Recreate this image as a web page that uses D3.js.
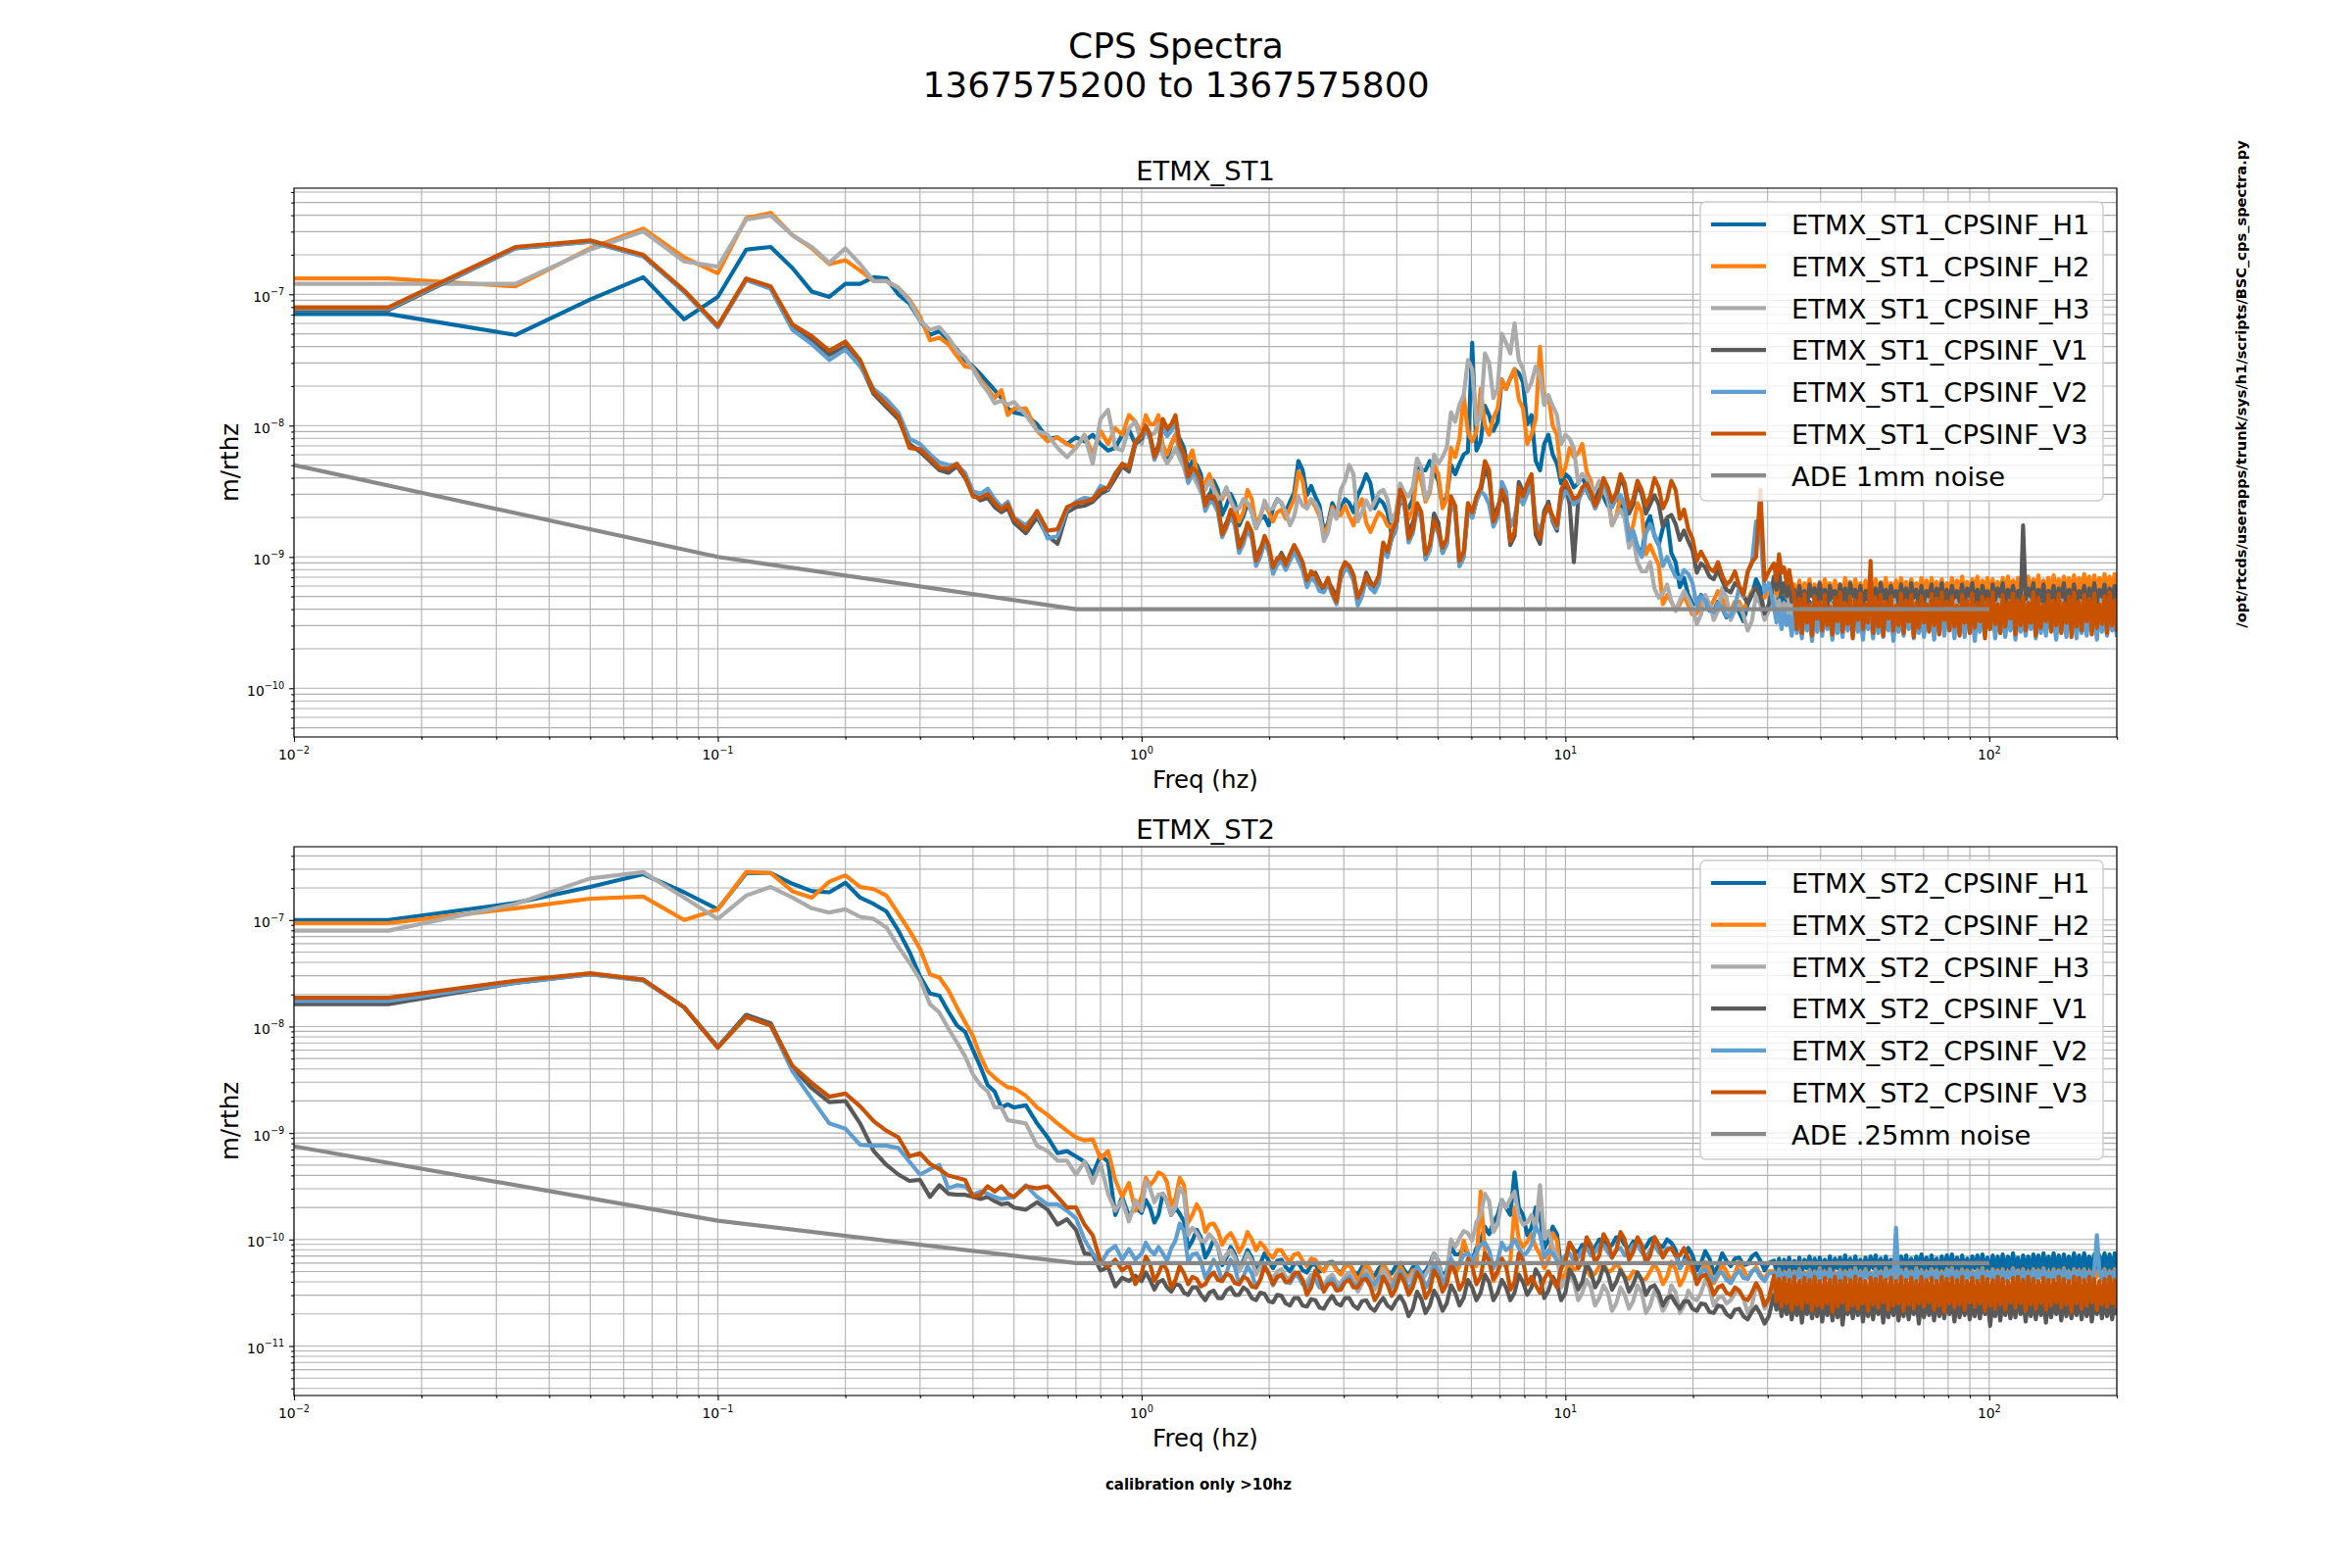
<!DOCTYPE html>
<html>
<head>
<meta charset="utf-8">
<script src="https://cdn.jsdelivr.net/npm/d3@7"></script>
<style>
  body { margin: 0; background: #fff; }
  text { font-family: "DejaVu Sans", sans-serif; fill: #000; }
</style>
</head>
<body>
<script>
// ---------------------------------------------- DATA ----------------------------------------------

// frequency grid (Hz): 1/60 Hz bins below 1 Hz, then a thinned set of bins up to 200 Hz
const fLow = [0.01,0.0167,0.0333,0.05,0.0667,0.0833,0.1,0.1167,0.1333,0.15,
  0.1667,0.1833,0.2,0.2167,0.2333,0.25,0.2667,0.2833,0.3,0.3167,
  0.3333,0.35,0.3667,0.3833,0.4,0.4167,0.4333,0.45,0.4667,0.4833,
  0.5,0.5333,0.5667,0.6,0.6333,0.6667,0.7,0.7333,0.7667,0.8,0.8333,0.8667,0.9,0.9333,0.9667,1.0];
const fMid = [1.023,1.047,1.072,1.096,1.122,1.148,1.175,1.202,1.230,1.259,
  1.288,1.318,1.349,1.380,1.413,1.445,1.479,1.514,1.549,1.585,
  1.622,1.660,1.698,1.738,1.778,1.820,1.862,1.905,1.950,1.995,
  2.042,2.089,2.138,2.188,2.239,2.291,2.344,2.399,2.455,2.512,
  2.570,2.630,2.692,2.754,2.818,2.884,2.951,3.020,3.090,3.162,
  3.236,3.311,3.388,3.467,3.548,3.631,3.715,3.802,3.890,3.981,
  4.074,4.169,4.266,4.365,4.467,4.571,4.677,4.786,4.898,5.012,
  5.129,5.248,5.370,5.495,5.623,5.754,5.888,6.026,6.166,6.310,
  6.457,6.607,6.761,6.918,7.079,7.244,7.413,7.586,7.762,7.943,
  8.128,8.318,8.511,8.710,8.913,9.120,9.333,9.550,9.772,10.00,
  10.23,10.47,10.72,10.96,11.22,11.48,11.75,12.02,12.30,12.59,
  12.88,13.18,13.49,13.80,14.13,14.45,14.79,15.14,15.49,15.85,
  16.22,16.60,16.98,17.38,17.78,18.20,18.62,19.05,19.50,19.95,
  20.42,20.89,21.38,21.88,22.39,22.91,23.44,23.99,24.55,25.12,
  25.70,26.30,26.92,27.54,28.18,28.84,29.51,30.20];
const fTop = [31.05,31.48,31.92,32.36,32.81,33.27,33.73,34.20,34.67,35.16,
  35.65,36.14,36.64,37.15,37.67,38.19,38.73,39.26,39.81,40.36,
  40.93,41.50,42.07,42.66,43.25,43.85,44.46,45.08,45.71,46.35,
  46.99,47.64,48.31,48.98,49.66,50.35,51.05,51.76,52.48,53.21,
  53.95,54.70,55.46,56.23,57.02,57.81,58.61,59.43,60.26,61.09,
  61.94,62.81,63.68,64.57,65.46,66.37,67.30,68.23,69.18,70.14,
  71.12,72.11,73.11,74.13,75.16,76.21,77.27,78.34,79.43,80.54,
  81.66,82.79,83.95,85.11,86.30,87.50,88.72,89.95,91.20,92.47,
  93.76,95.06,96.38,97.72,99.08,100.5,101.9,103.3,104.7,106.2,
  107.6,109.1,110.7,112.2,113.8,115.3,116.9,118.6,120.2,121.9,
  123.6,125.3,127.1,128.8,130.6,132.4,134.3,136.1,138.0,140.0,
  141.9,143.9,145.9,147.9,150.0,152.1,154.2,156.3,158.5,160.7,
  162.9,165.2,167.5,169.8,172.2,174.6,177.0,179.5,182.0,184.5,
  187.1,189.7,192.3,195.0,197.7,200];
const freqs = fLow.concat(fMid, fTop);

// spectra, log10(m/rthz), one value per frequency above
const st1_h1 = [
  -7.15,-7.15,-7.31,-7.04,-6.87,-7.19,-7.02,-6.66,-6.64,-6.80,
  -6.98,-7.02,-6.92,-6.92,-6.87,-6.88,-7.00,-7.07,-7.20,-7.31,
  -7.28,-7.35,-7.42,-7.50,-7.55,-7.61,-7.67,-7.73,-7.79,-7.87,
  -7.90,-7.92,-7.99,-8.10,-8.09,-8.14,-8.09,-8.12,-8.07,-8.14,-8.19,-8.17,-8.07,-8.03,-8.14,-8.07,
  -8.02,-8.09,-8.24,-8.17,-8.20,-8.27,-8.14,-8.07,-8.10,-8.17,-8.34,-8.27,-8.30,-8.37,-8.63,-8.56,-8.42,-8.49,-8.68,-8.61,-8.52,-8.59,-8.76,-8.69,-8.59,-8.66,-8.78,-8.71,-8.69,-8.76,
  -8.63,-8.56,-8.59,-8.66,-8.58,-8.51,-8.27,-8.34,-8.53,-8.46,-8.54,-8.61,-8.81,-8.74,-8.59,-8.66,-8.63,-8.56,-8.59,-8.66,-8.53,-8.46,-8.37,-8.44,-8.63,-8.56,-8.59,-8.66,-8.83,-8.76,
  -8.54,-8.61,-8.63,-8.56,-8.27,-8.34,-8.34,-8.27,-8.35,-8.42,-8.61,-8.54,-8.30,-8.37,-8.29,-8.22,-8.20,-7.37,-8.19,-8.12,-7.85,-7.92,-8.04,-7.97,
  -7.65,-7.72,-7.64,-7.57,-7.60,-7.67,-7.99,-7.92,-8.27,-8.34,-8.14,-8.07,-8.22,-8.29,-8.44,-8.37,
  -8.40,-8.47,-8.44,-8.37,-8.49,-8.56,-8.56,-8.49,-8.54,-8.61,-8.61,-8.54,-8.59,-8.66,-8.88,-8.81,-8.92,-8.99,-8.76,-8.69,
  -8.84,-8.91,-8.78,-8.71,-8.97,-9.04,-9.23,-9.16,-9.29,-9.36,-9.36,-9.29,-9.34,-9.41,-9.41,-9.34,-9.39,-9.46,-9.43,-9.36,-9.42,-9.49,-9.36,-9.29,-9.17,-9.24,-9.46,-9.39,
  -9.20,-9.35,-9.25,-9.42,-9.30,-9.45,-9.32,-9.48,-9.30,-9.44,
  -9.33,-9.47,-9.29,-9.50,-9.34,-9.45,-9.30,-9.49,-9.32,-9.46,
  -9.29,-9.48,-9.33,-9.44,-9.31,-9.50,-9.28,-9.46,-9.34,-9.47,
  -9.30,-9.45,-9.32,-9.49,-9.29,-9.47,-9.33,-9.44,-9.31,-9.50,
  -9.28,-9.46,-9.34,-9.48,-9.30,-9.45,-9.32,-9.50,-9.29,-9.47,
  -9.33,-9.44,-9.30,-9.49,-9.31,-9.46,-9.28,-9.48,-9.34,-9.45,
  -9.30,-9.50,-9.32,-9.46,-9.29,-9.47,-9.33,-9.44,-9.30,-9.49,
  -9.31,-9.45,-9.28,-9.48,-9.34,-9.46,-9.30,-9.50,-9.32,-9.44,
  -9.29,-9.47,-9.33,-9.45,-9.30,-9.49,-9.31,-9.46,-9.28,-9.48,
  -9.34,-9.44,-9.30,-9.50,-9.32,-9.45,-9.29,-9.47,-9.33,-9.46,
  -9.30,-9.48,-9.31,-9.44,-9.28,-9.49,-9.34,-9.45,-9.30,-9.47,
  -9.32,-9.46,-9.29,-9.50,-9.31,-9.44,-9.33,-9.48,-9.30,-9.45,
  -9.28,-9.47,-9.34,-9.46,-9.30,-9.49,-9.32,-9.44,-9.29,-9.48,
  -9.33,-9.45,-9.30,-9.47,-9.31,-9.46];
const st1_h2 = [
  -6.88,-6.88,-6.94,-6.65,-6.50,-6.72,-6.84,-6.42,-6.38,-6.55,
  -6.65,-6.77,-6.74,-6.82,-6.90,-6.90,-6.95,-7.04,-7.17,-7.35,
  -7.33,-7.38,-7.47,-7.55,-7.56,-7.65,-7.72,-7.79,-7.73,-7.92,
  -7.87,-7.87,-8.04,-8.12,-8.09,-8.14,-8.17,-8.07,-8.22,-8.04,-8.14,-8.02,-8.07,-7.92,-7.97,-8.07,
  -7.92,-7.99,-7.99,-7.92,-8.15,-8.22,-8.14,-8.07,-8.20,-8.27,-8.26,-8.19,-8.35,-8.42,-8.44,-8.37,-8.47,-8.54,-8.56,-8.49,-8.57,-8.64,-8.73,-8.66,-8.49,-8.56,-8.76,-8.69,-8.59,-8.66,
  -8.73,-8.66,-8.64,-8.71,-8.63,-8.56,-8.35,-8.42,-8.63,-8.56,-8.62,-8.69,-8.83,-8.76,-8.62,-8.69,-8.68,-8.61,-8.69,-8.76,-8.63,-8.56,-8.74,-8.81,-8.73,-8.66,-8.69,-8.76,-8.78,-8.71,
  -8.49,-8.56,-8.71,-8.64,-8.35,-8.42,-8.58,-8.51,-8.30,-8.37,-8.63,-8.56,-8.17,-8.24,-8.10,-7.77,-8.05,-8.12,-8.05,-7.72,-8.00,-8.07,-7.94,-7.87,
  -7.65,-7.72,-7.64,-7.57,-7.80,-7.87,-8.14,-8.07,-7.95,-7.40,-7.84,-7.77,-8.00,-8.07,-8.39,-8.32,
  -8.17,-8.24,-8.21,-8.14,-8.35,-8.42,-8.63,-8.56,-8.42,-8.49,-8.76,-8.69,-8.54,-8.61,-8.83,-8.76,-8.59,-8.66,-8.98,-8.91,
  -8.99,-9.06,-9.36,-9.29,-9.34,-9.41,-9.36,-9.29,-9.37,-9.44,-9.43,-9.36,-9.32,-9.39,-9.33,-9.26,-9.32,-9.39,-9.41,-9.34,-9.34,-9.41,-9.33,-9.26,-9.24,-9.31,-9.31,-9.24,
  -9.20,-9.30,-9.18,-9.28,-9.22,-9.31,-9.19,-9.27,-9.21,-9.30,
  -9.18,-9.29,-9.20,-9.26,-9.17,-9.30,-9.21,-9.27,-9.19,-9.29,
  -9.17,-9.28,-9.20,-9.30,-9.18,-9.26,-9.21,-9.29,-9.16,-9.27,
  -9.19,-9.30,-9.17,-9.27,-9.20,-9.29,-9.18,-9.26,-9.21,-9.30,
  -9.17,-9.28,-9.19,-9.26,-9.16,-9.29,-9.20,-9.27,-9.18,-9.30,
  -9.16,-9.27,-9.19,-9.29,-9.17,-9.26,-9.20,-9.28,-9.16,-9.27,
  -9.18,-9.29,-9.16,-9.26,-9.19,-9.28,-9.17,-9.27,-9.20,-9.29,
  -9.16,-9.26,-9.18,-9.28,-9.15,-9.27,-9.19,-9.29,-9.17,-9.26,
  -9.15,-9.28,-9.18,-9.26,-9.16,-9.29,-9.17,-9.27,-9.19,-9.28,
  -9.16,-9.26,-9.15,-9.28,-9.18,-9.27,-9.16,-9.29,-9.17,-9.26,
  -9.15,-9.27,-9.17,-9.25,-9.14,-9.28,-9.18,-9.26,-9.16,-9.27,
  -9.14,-9.26,-9.17,-9.28,-9.15,-9.25,-9.16,-9.27,-9.14,-9.26,
  -9.16,-9.27,-9.13,-9.25,-9.15,-9.28,-9.14,-9.26,-9.16,-9.25,
  -9.13,-9.26,-9.15,-9.24,-9.13,-9.25];
const st1_h3 = [
  -6.92,-6.92,-6.92,-6.66,-6.52,-6.75,-6.79,-6.43,-6.40,-6.55,
  -6.64,-6.76,-6.65,-6.77,-6.90,-6.90,-6.95,-7.05,-7.20,-7.27,
  -7.25,-7.33,-7.43,-7.48,-7.57,-7.67,-7.74,-7.83,-7.81,-7.84,
  -7.82,-7.92,-8.04,-8.07,-8.17,-8.24,-8.17,-8.07,-8.29,-7.95,-7.88,-8.17,-8.19,-8.02,-7.97,-8.14,
  -8.00,-8.07,-8.06,-7.99,-8.22,-8.29,-8.24,-8.17,-8.25,-8.32,-8.44,-8.37,-8.44,-8.51,-8.49,-8.42,-8.49,-8.56,-8.54,-8.47,-8.57,-8.64,-8.63,-8.56,-8.59,-8.66,-8.78,-8.71,-8.57,-8.64,
  -8.63,-8.56,-8.59,-8.66,-8.76,-8.69,-8.54,-8.61,-8.63,-8.56,-8.59,-8.66,-8.88,-8.81,-8.64,-8.71,-8.49,-8.42,-8.30,-8.37,-8.73,-8.66,-8.57,-8.64,-8.58,-8.51,-8.49,-8.56,-8.73,-8.66,
  -8.44,-8.51,-8.54,-8.47,-8.25,-8.32,-8.56,-8.49,-8.22,-8.29,-8.24,-8.17,-7.90,-7.97,-7.84,-7.77,-7.50,-7.57,-7.99,-7.92,-7.45,-7.52,-7.79,-7.72,
  -7.30,-7.37,-7.45,-7.22,-7.50,-7.57,-7.74,-7.67,-7.55,-7.62,-7.84,-7.77,-7.85,-7.92,-8.14,-8.07,
  -8.10,-8.17,-8.44,-8.37,-8.40,-8.47,-8.49,-8.42,-8.49,-8.56,-8.76,-8.69,-8.64,-8.71,-8.93,-8.86,-9.04,-9.11,-9.11,-9.04,
  -9.24,-9.31,-9.28,-9.21,-9.34,-9.41,-9.33,-9.26,-9.32,-9.39,-9.51,-9.44,-9.29,-9.36,-9.48,-9.41,-9.24,-9.31,-9.48,-9.41,-9.37,-9.44,-9.56,-9.49,-9.29,-9.36,-9.48,-9.41,
  -9.30,-9.42,-9.33,-9.46,-9.35,-9.44,-9.32,-9.47,-9.34,-9.43,
  -9.35,-9.45,-9.31,-9.48,-9.36,-9.43,-9.32,-9.47,-9.34,-9.44,
  -9.31,-9.46,-9.35,-9.42,-9.33,-9.48,-9.30,-9.44,-9.36,-9.45,
  -9.32,-9.43,-9.34,-9.47,-9.31,-9.45,-9.35,-9.42,-9.33,-9.48,
  -9.30,-9.44,-9.36,-9.46,-9.32,-9.43,-9.34,-9.48,-9.31,-9.45,
  -9.35,-9.42,-9.32,-9.47,-9.33,-9.44,-9.30,-9.46,-9.36,-9.43,
  -9.32,-9.48,-9.34,-9.44,-9.31,-9.45,-9.35,-9.42,-9.32,-9.47,
  -9.33,-9.43,-9.30,-9.46,-9.36,-9.44,-9.32,-9.48,-9.34,-9.42,
  -9.31,-9.45,-9.35,-9.43,-9.32,-9.47,-9.33,-9.44,-9.30,-9.46,
  -9.36,-9.42,-9.32,-9.48,-9.34,-9.43,-9.31,-9.45,-9.35,-9.44,
  -9.32,-9.46,-9.33,-9.42,-9.30,-9.47,-9.36,-9.43,-9.32,-9.45,
  -9.34,-9.44,-9.31,-9.48,-9.33,-9.42,-9.35,-9.46,-9.32,-9.43,
  -9.30,-9.45,-9.36,-9.44,-9.32,-9.47,-9.34,-9.42,-9.31,-9.46,
  -9.35,-9.43,-9.32,-9.45,-9.33,-9.44];
const st1_v1 = [
  -7.12,-7.12,-6.65,-6.60,-6.71,-6.98,-7.25,-6.89,-6.95,-7.25,
  -7.35,-7.46,-7.40,-7.53,-7.76,-7.86,-7.95,-8.14,-8.20,-8.27,
  -8.34,-8.36,-8.31,-8.40,-8.52,-8.57,-8.55,-8.62,-8.66,-8.63,
  -8.74,-8.82,-8.70,-8.84,-8.90,-8.66,-8.62,-8.61,-8.58,-8.52,-8.49,-8.40,-8.31,-8.35,-8.14,-8.10,
  -8.02,-8.09,-8.22,-8.15,-7.98,-8.05,-8.02,-7.95,-8.13,-8.20,-8.42,-8.35,-8.37,-8.44,-8.59,-8.52,-8.57,-8.64,-8.81,-8.74,-8.67,-8.74,-8.91,-8.84,-8.77,-8.84,-9.01,-8.94,-8.87,-8.94,
  -9.11,-9.04,-8.97,-9.04,-9.01,-8.94,-8.99,-9.06,-9.21,-9.14,-9.12,-9.19,-9.26,-9.19,-9.24,-9.31,-9.16,-9.09,-9.07,-9.14,-9.33,-9.26,-9.12,-9.19,-9.23,-9.16,-8.92,-8.99,-8.86,-8.79,
  -8.53,-8.60,-8.81,-8.74,-8.63,-8.70,-9.01,-8.94,-8.67,-8.74,-8.97,-8.90,-8.57,-8.64,-9.07,-9.00,-8.63,-8.70,-8.57,-8.50,-8.33,-8.40,-8.69,-8.62,
  -8.53,-8.60,-8.91,-8.84,-8.43,-8.50,-8.49,-8.42,-8.83,-8.90,-8.65,-8.58,-8.73,-8.80,-8.52,-8.45,
  -8.60,-9.04,-8.57,-8.50,-8.48,-8.55,-8.57,-8.50,-8.43,-8.50,-8.62,-8.55,-8.40,-8.47,-8.67,-8.60,-8.45,-8.52,-8.67,-8.60,
  -8.53,-8.60,-8.77,-8.70,-8.68,-8.75,-8.87,-8.80,-8.88,-8.95,-9.12,-9.05,-9.08,-9.15,-9.17,-9.10,-9.18,-9.25,-9.27,-9.20,-9.23,-9.30,-9.35,-9.28,-9.23,-9.30,-9.43,-9.36,
  -9.15,-9.25,-9.10,-9.28,-9.20,-9.30,-9.22,-9.34,-9.25,-9.36,
  -9.22,-9.33,-9.26,-9.38,-9.21,-9.30,-9.24,-9.35,-9.20,-9.32,
  -9.25,-9.37,-9.22,-9.31,-9.26,-9.36,-9.21,-9.33,-9.24,-9.38,
  -9.20,-9.30,-9.25,-9.35,-9.22,-9.37,-9.26,-9.31,-9.21,-9.34,
  -9.24,-9.38,-9.20,-9.32,-9.25,-9.36,-9.22,-9.30,-9.26,-9.35,
  -9.21,-9.33,-9.24,-9.37,-9.20,-9.31,-9.25,-9.36,-9.22,-9.34,
  -9.26,-9.30,-9.21,-9.38,-9.24,-9.32,-9.20,-9.35,-9.25,-9.37,
  -9.22,-9.31,-9.26,-9.34,-9.21,-9.36,-9.24,-9.30,-9.20,-9.35,
  -9.25,-9.37,-9.22,-9.32,-9.26,-9.38,-9.21,-9.33,-9.24,-9.30,
  -9.20,-9.36,-9.25,-9.31,-9.22,-9.35,-9.26,-9.37,-8.76,-9.32,
  -9.24,-9.30,-9.20,-9.36,-9.25,-9.33,-9.21,-9.37,-9.26,-9.31,
  -9.22,-9.35,-9.24,-9.30,-9.20,-9.38,-9.25,-9.32,-9.21,-9.36,
  -9.26,-9.31,-9.22,-9.37,-9.24,-9.33,-9.20,-9.35,-9.25,-9.30,
  -9.21,-9.36,-9.24,-9.32,-9.22,-9.34];
const st1_v2 = [
  -7.11,-7.11,-6.65,-6.60,-6.71,-6.98,-7.25,-6.89,-6.96,-7.27,
  -7.38,-7.50,-7.42,-7.55,-7.72,-7.80,-7.90,-8.10,-8.14,-8.22,
  -8.28,-8.30,-8.30,-8.36,-8.50,-8.52,-8.48,-8.56,-8.62,-8.58,
  -8.70,-8.76,-8.66,-8.86,-8.84,-8.64,-8.58,-8.55,-8.56,-8.46,-8.48,-8.36,-8.30,-8.30,-8.12,-8.08,
  -8.03,-8.10,-8.26,-8.19,-8.01,-8.08,-8.04,-7.97,-8.18,-8.25,-8.43,-8.36,-8.39,-8.46,-8.65,-8.58,-8.59,-8.66,-8.85,-8.78,-8.69,-8.76,-8.97,-8.90,-8.79,-8.86,-9.07,-9.00,-8.89,-8.96,
  -9.13,-9.06,-9.03,-9.10,-9.03,-8.96,-9.03,-9.10,-9.23,-9.16,-9.19,-9.26,-9.27,-9.20,-9.29,-9.36,-9.15,-9.08,-9.11,-9.18,-9.37,-9.30,-9.17,-9.24,-9.27,-9.20,-8.93,-9.00,-8.85,-8.78,
  -8.53,-8.60,-8.89,-8.82,-8.63,-8.70,-9.02,-8.95,-8.75,-8.82,-8.97,-8.90,-8.59,-8.66,-9.07,-9.00,-8.63,-8.70,-8.57,-8.50,-8.53,-8.60,-8.77,-8.70,
  -8.43,-8.50,-8.77,-8.70,-8.53,-8.60,-8.52,-8.45,-8.73,-8.80,-8.69,-8.62,-8.71,-8.78,-8.57,-8.50,
  -8.53,-8.60,-8.57,-8.50,-8.48,-8.55,-8.63,-8.56,-8.43,-8.50,-8.62,-8.55,-8.53,-8.60,-8.87,-8.80,-8.93,-9.00,-8.82,-8.75,
  -8.83,-8.90,-9.07,-9.00,-9.08,-9.15,-9.17,-9.10,-9.13,-9.20,-9.37,-9.30,-9.33,-9.40,-9.42,-9.35,-9.38,-9.45,-9.45,-9.38,-9.23,-9.30,-9.12,-9.05,-8.73,-8.80,-9.27,-9.20,
  -9.38,-9.50,-9.42,-9.55,-9.40,-9.52,-9.45,-9.60,-9.42,-9.58,
  -9.45,-9.62,-9.41,-9.56,-9.47,-9.64,-9.40,-9.57,-9.44,-9.60,
  -9.42,-9.55,-9.46,-9.63,-9.41,-9.58,-9.45,-9.61,-9.40,-9.56,
  -9.44,-9.60,-9.42,-9.57,-9.46,-9.63,-9.41,-9.55,-9.45,-9.62,
  -9.40,-9.58,-9.44,-9.61,-9.42,-9.56,-9.46,-9.64,-9.41,-9.57,
  -9.45,-9.60,-9.40,-9.55,-9.43,-9.62,-9.46,-9.58,-9.42,-9.61,
  -9.44,-9.56,-9.41,-9.63,-9.45,-9.57,-9.40,-9.60,-9.43,-9.55,
  -9.46,-9.62,-9.42,-9.58,-9.44,-9.61,-9.41,-9.56,-9.45,-9.64,
  -9.40,-9.57,-9.43,-9.60,-9.46,-9.55,-9.42,-9.62,-9.44,-9.58,
  -9.41,-9.61,-9.45,-9.56,-9.40,-9.63,-9.43,-9.57,-9.46,-9.60,
  -9.42,-9.55,-9.44,-9.62,-9.41,-9.58,-9.45,-9.60,-9.40,-9.56,
  -9.46,-9.63,-9.42,-9.57,-9.44,-9.61,-9.40,-9.55,-9.45,-9.62,
  -9.41,-9.58,-9.46,-9.60,-9.42,-9.56,-9.44,-9.63,-9.40,-9.57,
  -9.45,-9.60,-9.42,-9.56,-9.44,-9.61];
const st1_v3 = [
  -7.10,-7.10,-6.64,-6.59,-6.70,-6.97,-7.24,-6.88,-6.94,-7.23,
  -7.32,-7.43,-7.36,-7.50,-7.74,-7.84,-7.93,-8.17,-8.18,-8.25,
  -8.32,-8.33,-8.29,-8.39,-8.54,-8.55,-8.52,-8.59,-8.64,-8.60,
  -8.71,-8.79,-8.65,-8.80,-8.79,-8.62,-8.59,-8.58,-8.56,-8.49,-8.47,-8.37,-8.29,-8.32,-8.12,-8.07,
  -8.00,-8.07,-8.24,-8.17,-7.95,-8.02,-7.99,-7.92,-8.15,-8.22,-8.39,-8.32,-8.35,-8.42,-8.61,-8.54,-8.54,-8.61,-8.83,-8.76,-8.64,-8.71,-8.93,-8.86,-8.74,-8.81,-9.03,-8.96,-8.84,-8.91,
  -9.08,-9.01,-8.99,-9.06,-8.98,-8.91,-8.97,-9.04,-9.18,-9.11,-9.14,-9.21,-9.23,-9.16,-9.27,-9.34,-9.11,-9.04,-9.07,-9.14,-9.31,-9.24,-9.14,-9.21,-9.21,-9.14,-8.89,-8.96,-8.81,-8.74,
  -8.49,-8.56,-8.86,-8.79,-8.59,-8.66,-8.98,-8.91,-8.72,-8.79,-8.93,-8.86,-8.54,-8.61,-9.03,-8.96,-8.59,-8.66,-8.54,-8.47,-8.27,-8.34,-8.73,-8.66,
  -8.49,-8.56,-8.88,-8.81,-8.47,-8.54,-8.44,-8.37,-8.79,-8.86,-8.68,-8.61,-8.69,-8.76,-8.49,-8.42,
  -8.49,-8.56,-8.54,-8.47,-8.44,-8.51,-8.61,-8.54,-8.40,-8.47,-8.58,-8.51,-8.37,-8.44,-8.63,-8.56,-8.42,-8.49,-8.61,-8.54,
  -8.40,-8.47,-8.63,-8.56,-8.42,-8.49,-8.71,-8.64,-8.79,-8.86,-9.03,-8.96,-9.02,-9.09,-9.11,-9.04,-9.14,-9.21,-9.18,-9.11,-9.22,-9.29,-9.11,-9.04,-9.00,-8.49,-9.18,-9.11,
  -9.05,-9.18,-8.98,-9.12,-9.08,-9.20,-9.10,-9.22,-9.30,-9.55,
  -9.32,-9.58,-9.28,-9.50,-9.36,-9.60,-9.30,-9.47,-9.34,-9.56,
  -9.29,-9.52,-9.38,-9.59,-9.31,-9.49,-9.27,-9.57,-9.35,-9.51,
  -9.30,-9.62,-9.33,-9.48,-9.28,-9.55,-9.36,-9.50,-9.03,-9.58,
  -9.31,-9.53,-9.29,-9.60,-9.34,-9.47,-9.30,-9.56,-9.37,-9.52,
  -9.28,-9.58,-9.33,-9.49,-9.29,-9.61,-9.35,-9.54,-9.30,-9.50,
  -9.36,-9.57,-9.28,-9.52,-9.32,-9.59,-9.27,-9.48,-9.34,-9.56,
  -9.30,-9.53,-9.37,-9.60,-9.29,-9.50,-9.33,-9.58,-9.28,-9.54,
  -9.35,-9.49,-9.30,-9.62,-9.32,-9.55,-9.27,-9.51,-9.36,-9.58,
  -9.29,-9.53,-9.34,-9.47,-9.28,-9.59,-9.33,-9.52,-9.30,-9.56,
  -9.35,-9.50,-9.27,-9.60,-9.31,-9.54,-9.36,-9.49,-9.29,-9.57,
  -9.33,-9.52,-9.28,-9.58,-9.35,-9.50,-9.30,-9.61,-9.27,-9.53,
  -9.34,-9.56,-9.29,-9.49,-9.32,-9.59,-9.28,-9.54,-9.36,-9.51,
  -9.30,-9.58,-9.27,-9.52,-9.33,-9.57];

const st2_h1 = [
  -7.00,-7.00,-6.84,-6.69,-6.57,-6.74,-6.90,-6.56,-6.56,-6.66,
  -6.73,-6.74,-6.65,-6.79,-6.85,-6.92,-7.10,-7.30,-7.53,-7.69,
  -7.71,-7.86,-7.99,-8.05,-8.22,-8.38,-8.55,-8.61,-8.76,-8.73,
  -8.76,-8.74,-8.91,-9.04,-9.19,-9.17,-9.22,-9.27,-9.39,-9.21,-9.27,-9.77,-9.60,-9.78,-9.70,-9.75,
  -9.63,-9.70,-9.84,-9.77,-9.57,-9.64,-9.77,-9.70,-9.76,-9.83,-10.08,-10.01,-9.91,-9.98,-10.17,-10.10,-10.00,-10.07,-10.24,-10.17,-10.07,-10.14,-10.27,-10.20,-10.10,-10.17,-10.30,-10.23,-10.13,-10.20,
  -10.27,-10.20,-10.19,-10.26,-10.30,-10.23,-10.22,-10.29,-10.31,-10.24,-10.23,-10.30,-10.29,-10.22,-10.21,-10.28,-10.32,-10.25,-10.23,-10.30,-10.33,-10.26,-10.25,-10.32,-10.34,-10.27,-10.23,-10.30,-10.32,-10.25,
  -10.22,-10.29,-10.33,-10.26,-10.25,-10.32,-10.30,-10.23,-10.13,-10.20,-10.36,-10.29,-10.07,-10.14,-10.14,-10.07,-10.13,-10.20,-10.08,-10.01,-9.88,-9.95,-9.84,-9.77,
  -9.63,-9.70,-9.77,-9.37,-9.70,-9.77,-9.96,-9.89,-9.70,-9.77,-10.08,-10.01,-9.88,-9.95,-10.27,-10.20,
  -10.03,-10.10,-10.12,-10.05,-10.05,-10.12,-10.07,-10.00,-10.01,-10.08,-10.05,-9.98,-9.98,-10.05,-10.09,-10.02,-10.03,-10.10,-10.07,-10.00,
  -9.98,-10.05,-10.07,-10.00,-10.03,-10.10,-10.27,-10.20,-10.08,-10.15,-10.29,-10.22,-10.11,-10.18,-10.32,-10.25,-10.13,-10.20,-10.25,-10.18,-10.17,-10.24,-10.23,-10.16,-10.13,-10.20,-10.29,-10.22,
  -10.20,-10.30,-10.18,-10.32,-10.19,-10.28,-10.17,-10.31,-10.20,-10.29,
  -10.17,-10.32,-10.19,-10.27,-10.16,-10.30,-10.18,-10.31,-10.17,-10.28,
  -10.19,-10.30,-10.16,-10.32,-10.18,-10.27,-10.17,-10.30,-10.15,-10.29,
  -10.18,-10.31,-10.16,-10.28,-10.19,-10.30,-10.17,-10.32,-10.16,-10.27,
  -10.15,-10.30,-10.18,-10.29,-10.16,-10.31,-10.19,-10.28,-10.17,-10.30,
  -10.16,-10.28,-10.15,-10.31,-10.18,-10.29,-10.16,-10.30,-10.14,-10.28,
  -10.17,-10.30,-10.15,-10.27,-10.18,-10.31,-10.16,-10.29,-10.15,-10.30,
  -10.14,-10.29,-10.17,-10.30,-10.15,-10.28,-10.18,-10.31,-10.16,-10.27,
  -10.15,-10.30,-10.14,-10.28,-10.17,-10.31,-10.15,-10.29,-10.16,-10.30,
  -10.14,-10.28,-10.16,-10.30,-10.13,-10.29,-10.17,-10.31,-10.15,-10.28,
  -10.16,-10.30,-10.14,-10.27,-10.15,-10.30,-10.13,-10.29,-10.16,-10.28,
  -10.13,-10.29,-10.15,-10.31,-10.14,-10.28,-10.16,-10.30,-10.13,-10.27,
  -10.15,-10.30,-10.13,-10.28,-10.16,-10.29,-10.14,-10.31,-10.15,-10.28,
  -10.13,-10.29,-10.14,-10.30,-10.13,-10.28];
const st2_h2 = [
  -7.03,-7.03,-6.89,-6.80,-6.78,-7.00,-6.90,-6.55,-6.56,-6.73,
  -6.79,-6.64,-6.58,-6.69,-6.71,-6.77,-6.94,-7.10,-7.27,-7.51,
  -7.54,-7.66,-7.82,-7.96,-8.09,-8.28,-8.42,-8.48,-8.53,-8.57,
  -8.58,-8.65,-8.76,-8.83,-8.91,-8.98,-9.04,-9.07,-9.06,-9.24,-9.17,-9.44,-9.60,-9.47,-9.73,-9.60,
  -9.42,-9.49,-9.44,-9.37,-9.39,-9.46,-9.68,-9.61,-9.42,-9.49,-9.84,-9.77,-9.67,-9.74,-9.93,-9.86,-9.85,-9.92,-10.05,-9.98,-9.94,-10.01,-10.12,-10.05,-9.93,-10.00,-10.10,-10.03,-10.07,-10.14,
  -10.17,-10.10,-10.10,-10.17,-10.21,-10.14,-10.13,-10.20,-10.25,-10.18,-10.19,-10.26,-10.30,-10.23,-10.22,-10.29,-10.33,-10.26,-10.23,-10.30,-10.39,-10.32,-10.22,-10.29,-10.42,-10.35,-10.23,-10.30,-10.41,-10.34,
  -10.25,-10.32,-10.36,-10.29,-10.28,-10.35,-10.45,-10.38,-10.23,-10.30,-10.44,-10.37,-10.25,-10.32,-10.25,-10.01,-10.13,-10.20,-10.25,-9.55,-10.13,-10.20,-10.39,-10.32,
  -10.19,-10.26,-10.20,-9.70,-10.00,-10.07,-10.02,-9.95,-10.07,-10.14,-10.27,-10.20,-9.94,-10.01,-10.39,-10.32,
  -10.21,-10.28,-10.27,-10.20,-10.28,-10.35,-10.32,-10.25,-10.23,-10.30,-10.29,-10.22,-10.28,-10.35,-10.37,-10.30,-10.31,-10.38,-10.37,-10.30,
  -10.23,-10.30,-10.42,-10.35,-10.21,-10.28,-10.43,-10.36,-10.23,-10.30,-10.39,-10.32,-10.21,-10.28,-10.41,-10.34,-10.23,-10.30,-10.39,-10.32,-10.21,-10.28,-10.37,-10.30,-10.26,-10.33,-10.37,-10.30,
  -10.30,-10.37,-10.28,-10.38,-10.31,-10.36,-10.29,-10.38,-10.30,-10.35,
  -10.28,-10.37,-10.31,-10.35,-10.29,-10.38,-10.30,-10.36,-10.27,-10.37,
  -10.30,-10.35,-10.28,-10.38,-10.31,-10.36,-10.29,-10.37,-10.30,-10.35,
  -10.29,-10.38,-10.27,-10.36,-10.30,-10.37,-10.28,-10.35,-10.31,-10.38,
  -10.28,-10.36,-10.30,-10.37,-10.27,-10.35,-10.29,-10.38,-10.30,-10.36,
  -10.29,-10.37,-10.28,-10.35,-10.30,-10.38,-10.27,-10.36,-10.29,-10.37,
  -10.30,-10.35,-10.28,-10.37,-10.29,-10.36,-10.30,-10.38,-10.28,-10.35,
  -10.27,-10.37,-10.30,-10.36,-10.28,-10.38,-10.29,-10.35,-10.30,-10.37,
  -10.29,-10.36,-10.27,-10.38,-10.30,-10.35,-10.28,-10.37,-10.29,-10.36,
  -10.28,-10.38,-10.30,-10.35,-10.27,-10.37,-10.29,-10.36,-10.28,-10.38,
  -10.30,-10.36,-10.28,-10.37,-10.29,-10.35,-10.27,-10.38,-10.30,-10.36,
  -10.28,-10.35,-10.29,-10.38,-10.27,-10.36,-10.30,-10.37,-10.28,-10.35,
  -10.29,-10.37,-10.28,-10.36,-10.30,-10.38,-10.27,-10.35,-10.29,-10.37,
  -10.28,-10.36,-10.30,-10.37,-10.28,-10.35];
const st2_h3 = [
  -7.10,-7.10,-6.85,-6.61,-6.55,-6.79,-6.99,-6.77,-6.69,-6.79,
  -6.89,-6.93,-6.90,-6.97,-6.99,-7.07,-7.25,-7.40,-7.56,-7.79,
  -7.87,-8.02,-8.15,-8.28,-8.45,-8.55,-8.61,-8.76,-8.76,-8.88,
  -8.89,-8.91,-9.12,-9.17,-9.26,-9.26,-9.39,-9.27,-9.47,-9.29,-9.57,-9.73,-9.63,-9.83,-9.63,-9.73,
  -9.45,-9.52,-9.65,-9.58,-9.57,-9.64,-9.77,-9.70,-9.51,-9.58,-9.96,-9.89,-9.94,-10.01,-10.02,-9.95,-10.00,-10.07,-10.21,-10.14,-10.10,-10.17,-10.30,-10.23,-10.13,-10.20,-10.33,-10.26,-10.25,-10.32,
  -10.37,-10.30,-10.28,-10.35,-10.37,-10.30,-10.33,-10.40,-10.40,-10.33,-10.35,-10.42,-10.43,-10.36,-10.33,-10.40,-10.41,-10.34,-10.31,-10.38,-10.49,-10.42,-10.29,-10.36,-10.47,-10.40,-10.28,-10.35,-10.45,-10.38,
  -10.31,-10.38,-10.39,-10.32,-10.31,-10.38,-10.33,-10.26,-10.13,-10.20,-10.39,-10.32,-10.00,-10.07,-9.99,-9.92,-9.94,-10.01,-9.84,-9.77,-9.57,-9.64,-9.93,-9.86,
  -9.63,-9.70,-9.62,-9.55,-9.79,-9.86,-9.84,-9.77,-9.90,-9.49,-9.99,-9.92,-10.07,-10.14,-10.45,-10.38,
  -10.33,-10.40,-10.57,-10.50,-10.38,-10.45,-10.62,-10.55,-10.43,-10.50,-10.67,-10.60,-10.45,-10.52,-10.65,-10.58,-10.43,-10.50,-10.69,-10.62,
  -10.48,-10.55,-10.67,-10.60,-10.43,-10.50,-10.69,-10.62,-10.48,-10.55,-10.57,-10.50,-10.38,-10.45,-10.62,-10.55,-10.53,-10.60,-10.57,-10.50,-10.48,-10.55,-10.69,-10.62,-10.43,-10.50,-10.65,-10.58,
  -10.45,-10.60,-10.47,-10.64,-10.46,-10.62,-10.48,-10.66,-10.45,-10.61,
  -10.49,-10.65,-10.46,-10.60,-10.48,-10.67,-10.45,-10.62,-10.49,-10.64,
  -10.46,-10.61,-10.48,-10.66,-10.45,-10.63,-10.49,-10.60,-10.46,-10.65,
  -10.48,-10.62,-10.45,-10.67,-10.47,-10.60,-10.49,-10.64,-10.46,-10.61,
  -10.47,-10.66,-10.45,-10.62,-10.48,-10.65,-10.46,-10.60,-10.49,-10.63,
  -10.45,-10.64,-10.48,-10.61,-10.46,-10.67,-10.49,-10.62,-10.45,-10.60,
  -10.48,-10.65,-10.46,-10.63,-10.49,-10.61,-10.45,-10.66,-10.47,-10.62,
  -10.46,-10.60,-10.48,-10.67,-10.45,-10.63,-10.49,-10.61,-10.46,-10.65,
  -10.49,-10.62,-10.45,-10.64,-10.47,-10.60,-10.48,-10.66,-10.45,-10.63,
  -10.47,-10.61,-10.49,-10.65,-10.46,-10.62,-10.45,-10.67,-10.48,-10.60,
  -10.45,-10.64,-10.47,-10.61,-10.49,-10.66,-10.46,-10.62,-10.48,-10.63,
  -10.48,-10.60,-10.45,-10.65,-10.47,-10.61,-10.49,-10.64,-10.45,-10.62,
  -10.46,-10.66,-10.48,-10.60,-10.45,-10.63,-10.47,-10.65,-10.49,-10.61,
  -10.47,-10.62,-10.45,-10.64,-10.48,-10.60];
const st2_v1 = [
  -7.79,-7.79,-7.59,-7.51,-7.56,-7.82,-8.19,-7.89,-7.97,-8.38,
  -8.58,-8.71,-8.70,-8.91,-9.17,-9.30,-9.39,-9.45,-9.44,-9.60,
  -9.49,-9.57,-9.58,-9.58,-9.60,-9.62,-9.60,-9.64,-9.67,-9.66,
  -9.70,-9.72,-9.65,-9.72,-9.86,-9.81,-9.91,-10.13,-10.14,-10.29,-10.26,-10.44,-10.36,-10.39,-10.34,-10.39,
  -10.31,-10.38,-10.47,-10.40,-10.38,-10.45,-10.49,-10.42,-10.43,-10.50,-10.52,-10.45,-10.45,-10.52,-10.57,-10.50,-10.48,-10.55,-10.55,-10.48,-10.45,-10.52,-10.52,-10.45,-10.48,-10.55,-10.57,-10.50,-10.51,-10.58,
  -10.59,-10.52,-10.53,-10.60,-10.62,-10.55,-10.55,-10.62,-10.63,-10.56,-10.57,-10.64,-10.65,-10.58,-10.53,-10.60,-10.62,-10.55,-10.55,-10.62,-10.65,-10.58,-10.57,-10.64,-10.67,-10.60,-10.55,-10.62,-10.65,-10.58,
  -10.53,-10.60,-10.72,-10.65,-10.49,-10.56,-10.69,-10.62,-10.48,-10.55,-10.67,-10.60,-10.43,-10.50,-10.62,-10.55,-10.38,-10.45,-10.57,-10.50,-10.33,-10.40,-10.57,-10.50,
  -10.38,-10.45,-10.57,-10.50,-10.33,-10.40,-10.52,-10.45,-10.28,-10.35,-10.55,-10.48,-10.35,-10.42,-10.57,-10.50,
  -10.28,-10.35,-10.47,-10.40,-10.23,-10.30,-10.45,-10.38,-10.25,-10.32,-10.47,-10.40,-10.29,-10.36,-10.49,-10.42,-10.31,-10.38,-10.52,-10.45,
  -10.43,-10.50,-10.62,-10.55,-10.53,-10.60,-10.65,-10.58,-10.58,-10.65,-10.67,-10.60,-10.61,-10.68,-10.69,-10.62,-10.63,-10.70,-10.73,-10.66,-10.65,-10.72,-10.75,-10.68,-10.63,-10.70,-10.79,-10.72,
  -10.52,-10.66,-10.55,-10.72,-10.56,-10.70,-10.54,-10.75,-10.57,-10.71,
  -10.55,-10.78,-10.58,-10.70,-10.56,-10.74,-10.59,-10.72,-10.55,-10.77,
  -10.57,-10.71,-10.55,-10.76,-10.58,-10.73,-10.56,-10.80,-10.59,-10.70,
  -10.56,-10.74,-10.58,-10.71,-10.55,-10.77,-10.57,-10.72,-10.59,-10.75,
  -10.55,-10.70,-10.57,-10.78,-10.56,-10.73,-10.58,-10.71,-10.55,-10.76,
  -10.58,-10.72,-10.56,-10.75,-10.59,-10.70,-10.55,-10.79,-10.57,-10.73,
  -10.56,-10.71,-10.58,-10.76,-10.55,-10.72,-10.59,-10.74,-10.56,-10.70,
  -10.57,-10.77,-10.55,-10.73,-10.58,-10.71,-10.56,-10.75,-10.59,-10.72,
  -10.55,-10.74,-10.57,-10.70,-10.56,-10.81,-10.58,-10.72,-10.55,-10.76,
  -10.58,-10.71,-10.56,-10.74,-10.59,-10.73,-10.55,-10.70,-10.57,-10.77,
  -10.56,-10.72,-10.58,-10.75,-10.55,-10.71,-10.59,-10.78,-10.56,-10.73,
  -10.57,-10.70,-10.55,-10.76,-10.58,-10.72,-10.56,-10.74,-10.59,-10.71,
  -10.55,-10.75,-10.57,-10.72,-10.56,-10.77,-10.58,-10.70,-10.55,-10.74,
  -10.58,-10.72,-10.56,-10.75,-10.57,-10.71];
const st2_v2 = [
  -7.76,-7.76,-7.59,-7.51,-7.57,-7.82,-8.19,-7.91,-7.99,-8.42,
  -8.68,-8.91,-8.96,-9.11,-9.12,-9.12,-9.14,-9.27,-9.39,-9.34,
  -9.30,-9.52,-9.49,-9.50,-9.58,-9.55,-9.57,-9.60,-9.62,-9.61,
  -9.60,-9.49,-9.60,-9.67,-9.67,-9.73,-9.80,-10.00,-10.13,-10.23,-10.11,-10.06,-10.19,-10.09,-10.19,-10.13,
  -10.03,-10.10,-10.14,-10.07,-10.13,-10.20,-10.08,-10.01,-9.85,-9.92,-10.21,-10.14,-10.13,-10.20,-10.36,-10.29,-10.19,-10.26,-10.39,-10.32,-10.19,-10.26,-10.42,-10.35,-10.25,-10.32,-10.45,-10.38,-10.25,-10.32,
  -10.43,-10.36,-10.33,-10.40,-10.41,-10.34,-10.35,-10.42,-10.45,-10.38,-10.38,-10.45,-10.47,-10.40,-10.37,-10.44,-10.45,-10.38,-10.35,-10.42,-10.43,-10.36,-10.33,-10.40,-10.42,-10.35,-10.35,-10.42,-10.45,-10.38,
  -10.29,-10.36,-10.47,-10.40,-10.25,-10.32,-10.45,-10.38,-10.23,-10.30,-10.42,-10.35,-10.18,-10.25,-10.22,-10.15,-10.13,-10.20,-10.12,-10.05,-10.03,-10.10,-10.27,-10.20,
  -10.03,-10.10,-10.07,-10.00,-10.08,-10.15,-10.12,-10.05,-9.88,-9.95,-10.17,-10.10,-10.13,-10.20,-10.22,-10.15,
  -10.13,-10.20,-10.17,-10.10,-10.08,-10.15,-10.12,-10.05,-10.05,-10.12,-10.17,-10.10,-10.08,-10.15,-10.12,-10.05,-10.05,-10.12,-10.17,-10.10,
  -10.05,-10.12,-10.15,-10.08,-10.08,-10.15,-10.27,-10.20,-10.18,-10.25,-10.37,-10.30,-10.28,-10.35,-10.39,-10.32,-10.31,-10.38,-10.41,-10.34,-10.29,-10.36,-10.37,-10.30,-10.28,-10.35,-10.39,-10.32,
  -10.31,-10.38,-10.29,-10.40,-10.32,-10.37,-10.30,-10.39,-10.31,-10.36,
  -10.29,-10.39,-10.32,-10.37,-10.30,-10.40,-10.31,-10.38,-10.28,-10.37,
  -10.31,-10.36,-10.29,-10.39,-10.32,-10.38,-10.30,-10.40,-10.31,-10.37,
  -10.30,-10.39,-10.28,-10.37,-10.31,-10.38,-10.29,-10.36,-10.32,-10.40,
  -10.29,-10.37,-10.31,-10.39,-10.28,-10.36,-10.30,-10.38,-9.89,-10.37,
  -10.30,-10.38,-10.29,-10.36,-10.31,-10.40,-10.28,-10.37,-10.30,-10.39,
  -10.31,-10.36,-10.29,-10.38,-10.30,-10.37,-10.31,-10.40,-10.29,-10.36,
  -10.28,-10.38,-10.31,-10.37,-10.29,-10.39,-10.30,-10.36,-10.31,-10.38,
  -10.30,-10.37,-10.28,-10.40,-10.31,-10.36,-10.29,-10.38,-10.30,-10.37,
  -10.29,-10.39,-10.31,-10.36,-10.28,-10.38,-10.30,-10.37,-10.29,-10.40,
  -10.31,-10.37,-10.29,-10.38,-10.30,-10.36,-10.28,-10.39,-10.31,-10.37,
  -10.29,-10.36,-10.30,-10.39,-10.28,-10.37,-10.31,-10.38,-10.29,-10.36,
  -10.30,-10.38,-10.29,-10.37,-10.31,-10.39,-10.30,-9.96,-10.30,-10.38,
  -10.29,-10.37,-10.31,-10.38,-10.29,-10.36];
const st2_v3 = [
  -7.73,-7.73,-7.57,-7.50,-7.56,-7.82,-8.20,-7.91,-7.99,-8.37,
  -8.53,-8.66,-8.63,-8.75,-8.89,-8.98,-9.04,-9.22,-9.19,-9.29,
  -9.34,-9.40,-9.42,-9.44,-9.60,-9.58,-9.50,-9.55,-9.50,-9.57,
  -9.60,-9.50,-9.52,-9.50,-9.60,-9.70,-9.70,-9.86,-9.96,-10.21,-10.26,-10.19,-10.29,-10.24,-10.42,-10.32,
  -10.16,-10.23,-10.39,-10.32,-10.22,-10.29,-10.45,-10.38,-10.25,-10.32,-10.42,-10.35,-10.37,-10.44,-10.42,-10.35,-10.31,-10.38,-10.39,-10.32,-10.34,-10.41,-10.42,-10.35,-10.37,-10.44,-10.45,-10.38,-10.25,-10.32,
  -10.42,-10.35,-10.33,-10.40,-10.39,-10.32,-10.31,-10.38,-10.52,-10.45,-10.29,-10.36,-10.49,-10.42,-10.41,-10.48,-10.47,-10.40,-10.38,-10.45,-10.45,-10.38,-10.37,-10.44,-10.57,-10.50,-10.35,-10.42,-10.53,-10.46,
  -10.33,-10.40,-10.52,-10.45,-10.31,-10.38,-10.55,-10.48,-10.29,-10.36,-10.49,-10.42,-10.23,-10.30,-10.47,-10.40,-10.18,-10.25,-10.42,-10.35,-10.13,-10.20,-10.37,-10.30,
  -10.18,-10.25,-10.47,-10.40,-10.13,-10.20,-10.42,-10.35,-10.43,-10.50,-10.37,-10.30,-10.38,-10.45,-10.27,-10.20,
  -10.03,-10.10,-10.27,-10.20,-9.98,-10.05,-10.22,-10.15,-9.95,-10.02,-10.17,-10.10,-9.93,-10.00,-10.19,-10.12,-9.98,-10.05,-10.22,-10.15,
  -9.98,-10.05,-10.17,-10.10,-10.08,-10.15,-10.15,-10.08,-10.18,-10.25,-10.42,-10.35,-10.33,-10.40,-10.52,-10.45,-10.43,-10.50,-10.52,-10.45,-10.48,-10.55,-10.57,-10.50,-10.41,-10.48,-10.62,-10.55,
  -10.34,-10.58,-10.37,-10.63,-10.36,-10.60,-10.38,-10.66,-10.35,-10.61,
  -10.39,-10.65,-10.36,-10.59,-10.38,-10.67,-10.35,-10.62,-10.39,-10.64,
  -10.36,-10.60,-10.38,-10.68,-10.35,-10.63,-10.39,-10.59,-10.36,-10.66,
  -10.38,-10.62,-10.35,-10.65,-10.37,-10.60,-10.39,-10.67,-10.36,-10.61,
  -10.37,-10.64,-10.35,-10.59,-10.38,-10.66,-10.36,-10.62,-10.39,-10.60,
  -10.35,-10.67,-10.38,-10.61,-10.36,-10.65,-10.39,-10.60,-10.35,-10.63,
  -10.38,-10.59,-10.36,-10.66,-10.39,-10.62,-10.35,-10.68,-10.37,-10.60,
  -10.36,-10.64,-10.38,-10.61,-10.35,-10.66,-10.39,-10.59,-10.36,-10.63,
  -10.39,-10.60,-10.35,-10.67,-10.37,-10.62,-10.38,-10.65,-10.35,-10.61,
  -10.37,-10.66,-10.39,-10.59,-10.36,-10.64,-10.35,-10.60,-10.38,-10.67,
  -10.35,-10.61,-10.37,-10.65,-10.39,-10.60,-10.36,-10.66,-10.38,-10.62,
  -10.38,-10.59,-10.35,-10.64,-10.37,-10.61,-10.39,-10.68,-10.35,-10.60,
  -10.36,-10.65,-10.38,-10.62,-10.35,-10.59,-10.37,-10.66,-10.39,-10.61,
  -10.37,-10.63,-10.35,-10.60,-10.38,-10.65];

// ADE reference noise curves (m/rthz)
const adeFreq = [0.01, 0.1, 0.7, 100];
const ade_1mm = [5.0e-9, 1.0e-9, 4.0e-10, 4.0e-10];
const ade_025mm = [7.5e-10, 1.5e-10, 6.0e-11, 6.0e-11];

const channels = ["H1", "H2", "H3", "V1", "V2", "V3"];
const colors = ["#006BA4", "#FF800E", "#ABABAB", "#595959", "#5F9ED1", "#C85200"];
const adeColor = "#898989";

// ------------------------------------------- FIGURE -------------------------------------------

const W = 2400, H = 1600;
const margin = {left: 300, right: 2160};
const lw = 4.17;

const svg = d3.select("body").append("svg")
    .attr("width", W)
    .attr("height", H)
    .style("background", "#fff");

// suptitle
svg.append("text")
    .attr("x", 1200).attr("y", 59)
    .attr("text-anchor", "middle")
    .style("font-size", "36px")
    .text("CPS Spectra");
svg.append("text")
    .attr("x", 1200).attr("y", 99)
    .attr("text-anchor", "middle")
    .style("font-size", "36px")
    .text("1367575200 to 1367575800");

const panels = [
  {name: "ETMX_ST1", top: 192, bottom: 752, ylim: [-10.371, -6.192],
   series: [st1_h1, st1_h2, st1_h3, st1_v1, st1_v2, st1_v3],
   ade: ade_1mm, adeLabel: "ADE 1mm noise"},
  {name: "ETMX_ST2", top: 864, bottom: 1424, ylim: [-11.465, -6.312],
   series: [st2_h1, st2_h2, st2_h3, st2_v1, st2_v2, st2_v3],
   ade: ade_025mm, adeLabel: "ADE .25mm noise"}
];

function isDecade(t) {
  const l = Math.log10(t);
  return Math.abs(l - Math.round(l)) < 1e-6;
}

// "10^n" label, matplotlib style
function powLabel(sel, t) {
  const e = Math.round(Math.log10(t));
  sel.append("tspan").text("10");
  sel.append("tspan")
      .attr("dy", -6.5)
      .style("font-size", "9.7px")
      .text((e < 0 ? "\u2212" : "") + Math.abs(e));
}

panels.forEach(function(p, pi) {

  let x = d3.scaleLog().domain([0.01, 200]).range([margin.left, margin.right]);
  let y = d3.scaleLog()
      .domain([Math.pow(10, p.ylim[0]), Math.pow(10, p.ylim[1])])
      .range([p.bottom, p.top]);

  let xt = x.ticks(), yt = y.ticks();
  let g = svg.append("g");

  // grid, major and minor
  g.append("g").selectAll("line").data(xt).enter().append("line")
      .attr("x1", d => x(d)).attr("x2", d => x(d))
      .attr("y1", p.top).attr("y2", p.bottom)
      .attr("stroke", "#b0b0b0").attr("stroke-width", 1.1);
  g.append("g").selectAll("line").data(yt).enter().append("line")
      .attr("x1", margin.left).attr("x2", margin.right)
      .attr("y1", d => y(d)).attr("y2", d => y(d))
      .attr("stroke", "#b0b0b0").attr("stroke-width", 1.1);

  // data lines
  let clipId = "clip" + pi;
  svg.append("clipPath").attr("id", clipId).append("rect")
      .attr("x", margin.left).attr("y", p.top)
      .attr("width", margin.right - margin.left).attr("height", p.bottom - p.top);

  let lines = g.append("g").attr("clip-path", "url(#" + clipId + ")");
  let line = d3.line().x(d => x(d[0])).y(d => y(d[1]));

  p.series.forEach(function(vals, si) {
    if (vals.length !== freqs.length) console.warn(p.name, channels[si], vals.length);
    let pts = freqs.map((f, i) => [f, Math.pow(10, vals[i])]).filter(d => !isNaN(d[1]));
    lines.append("path")
        .datum(pts)
        .attr("fill", "none")
        .attr("stroke", colors[si])
        .attr("stroke-width", lw)
        .attr("stroke-linejoin", "round")
        .attr("d", line);
  });

  lines.append("path")
      .datum(adeFreq.map((f, i) => [f, p.ade[i]]))
      .attr("fill", "none")
      .attr("stroke", adeColor)
      .attr("stroke-width", lw)
      .attr("stroke-linejoin", "round")
      .attr("d", line);

  // axes: minor ticks, major ticks
  let xMaj = xt.filter(isDecade), xMin = xt.filter(d => !isDecade(d));
  let yMaj = yt.filter(isDecade), yMin = yt.filter(d => !isDecade(d));

  let ax = g.append("g").attr("transform", "translate(0," + p.bottom + ")");
  ax.call(d3.axisBottom(x).tickValues(xMin).tickSize(2.8).tickFormat(""));
  ax.append("g").call(d3.axisBottom(x).tickValues(xMaj).tickSize(4.9).tickFormat(""));
  let ay = g.append("g").attr("transform", "translate(" + margin.left + ",0)");
  ay.call(d3.axisLeft(y).tickValues(yMin).tickSize(2.8).tickFormat(""));
  ay.append("g").call(d3.axisLeft(y).tickValues(yMaj).tickSize(4.9).tickFormat(""));
  g.selectAll(".domain").remove();
  g.selectAll(".tick line").attr("stroke", "#000").attr("stroke-width", 1.1);

  xMaj.forEach(function(t) {
    g.append("text")
        .attr("x", x(t)).attr("y", p.bottom + 23)
        .attr("text-anchor", "middle")
        .style("font-size", "13.9px")
        .call(powLabel, t);
  });
  yMaj.forEach(function(t) {
    g.append("text")
        .attr("x", margin.left - 9.8).attr("y", y(t) + 7.4)
        .attr("text-anchor", "end")
        .style("font-size", "13.9px")
        .call(powLabel, t);
  });

  // spines
  g.append("rect")
      .attr("x", margin.left).attr("y", p.top)
      .attr("width", margin.right - margin.left).attr("height", p.bottom - p.top)
      .attr("fill", "none").attr("stroke", "#000").attr("stroke-width", 1.1);

  // titles and labels
  g.append("text")
      .attr("x", (margin.left + margin.right) / 2).attr("y", p.top - 8.5)
      .attr("text-anchor", "middle")
      .style("font-size", "27.4px")
      .text(p.name);
  g.append("text")
      .attr("x", (margin.left + margin.right) / 2).attr("y", p.bottom + 52)
      .attr("text-anchor", "middle")
      .style("font-size", "24.5px")
      .text("Freq (hz)");
  g.append("text")
      .attr("transform", "translate(243," + (p.top + p.bottom) / 2 + ") rotate(-90)")
      .attr("text-anchor", "middle")
      .style("font-size", "24.5px")
      .text("m/rthz");

  // legend
  let labels = channels.map(c => p.name + "_CPSINF_" + c).concat([p.adeLabel]);
  let lcol = colors.concat([adeColor]);
  let lg = g.append("g").attr("transform", "translate(1735," + (p.top + 14) + ")");
  lg.append("rect")
      .attr("x", 0).attr("y", 0)
      .attr("width", 411).attr("height", 305)
      .attr("rx", 5.5).attr("ry", 5.5)
      .attr("fill", "#fff").attr("fill-opacity", 0.8)
      .attr("stroke", "#cccccc").attr("stroke-width", 1.4);
  labels.forEach(function(lab, i) {
    let by = 33.3 + i * 42.7;
    lg.append("line")
        .attr("x1", 11).attr("x2", 67)
        .attr("y1", by - 10.3).attr("y2", by - 10.3)
        .attr("stroke", lcol[i]).attr("stroke-width", lw);
    lg.append("text")
        .attr("x", 93).attr("y", by)
        .style("font-size", "27.4px")
        .text(lab);
  });
});

// side notes
svg.append("text")
    .attr("transform", "translate(2292,392) rotate(-90)")
    .attr("text-anchor", "middle")
    .style("font-size", "14.6px")
    .style("font-weight", "bold")
    .text("/opt/rtcds/userapps/trunk/sys/h1/scripts/BSC_cps_spectra.py");
svg.append("text")
    .attr("x", 1223).attr("y", 1520)
    .attr("text-anchor", "middle")
    .style("font-size", "15px")
    .style("font-weight", "bold")
    .text("calibration only >10hz");
</script>
</body>
</html>
